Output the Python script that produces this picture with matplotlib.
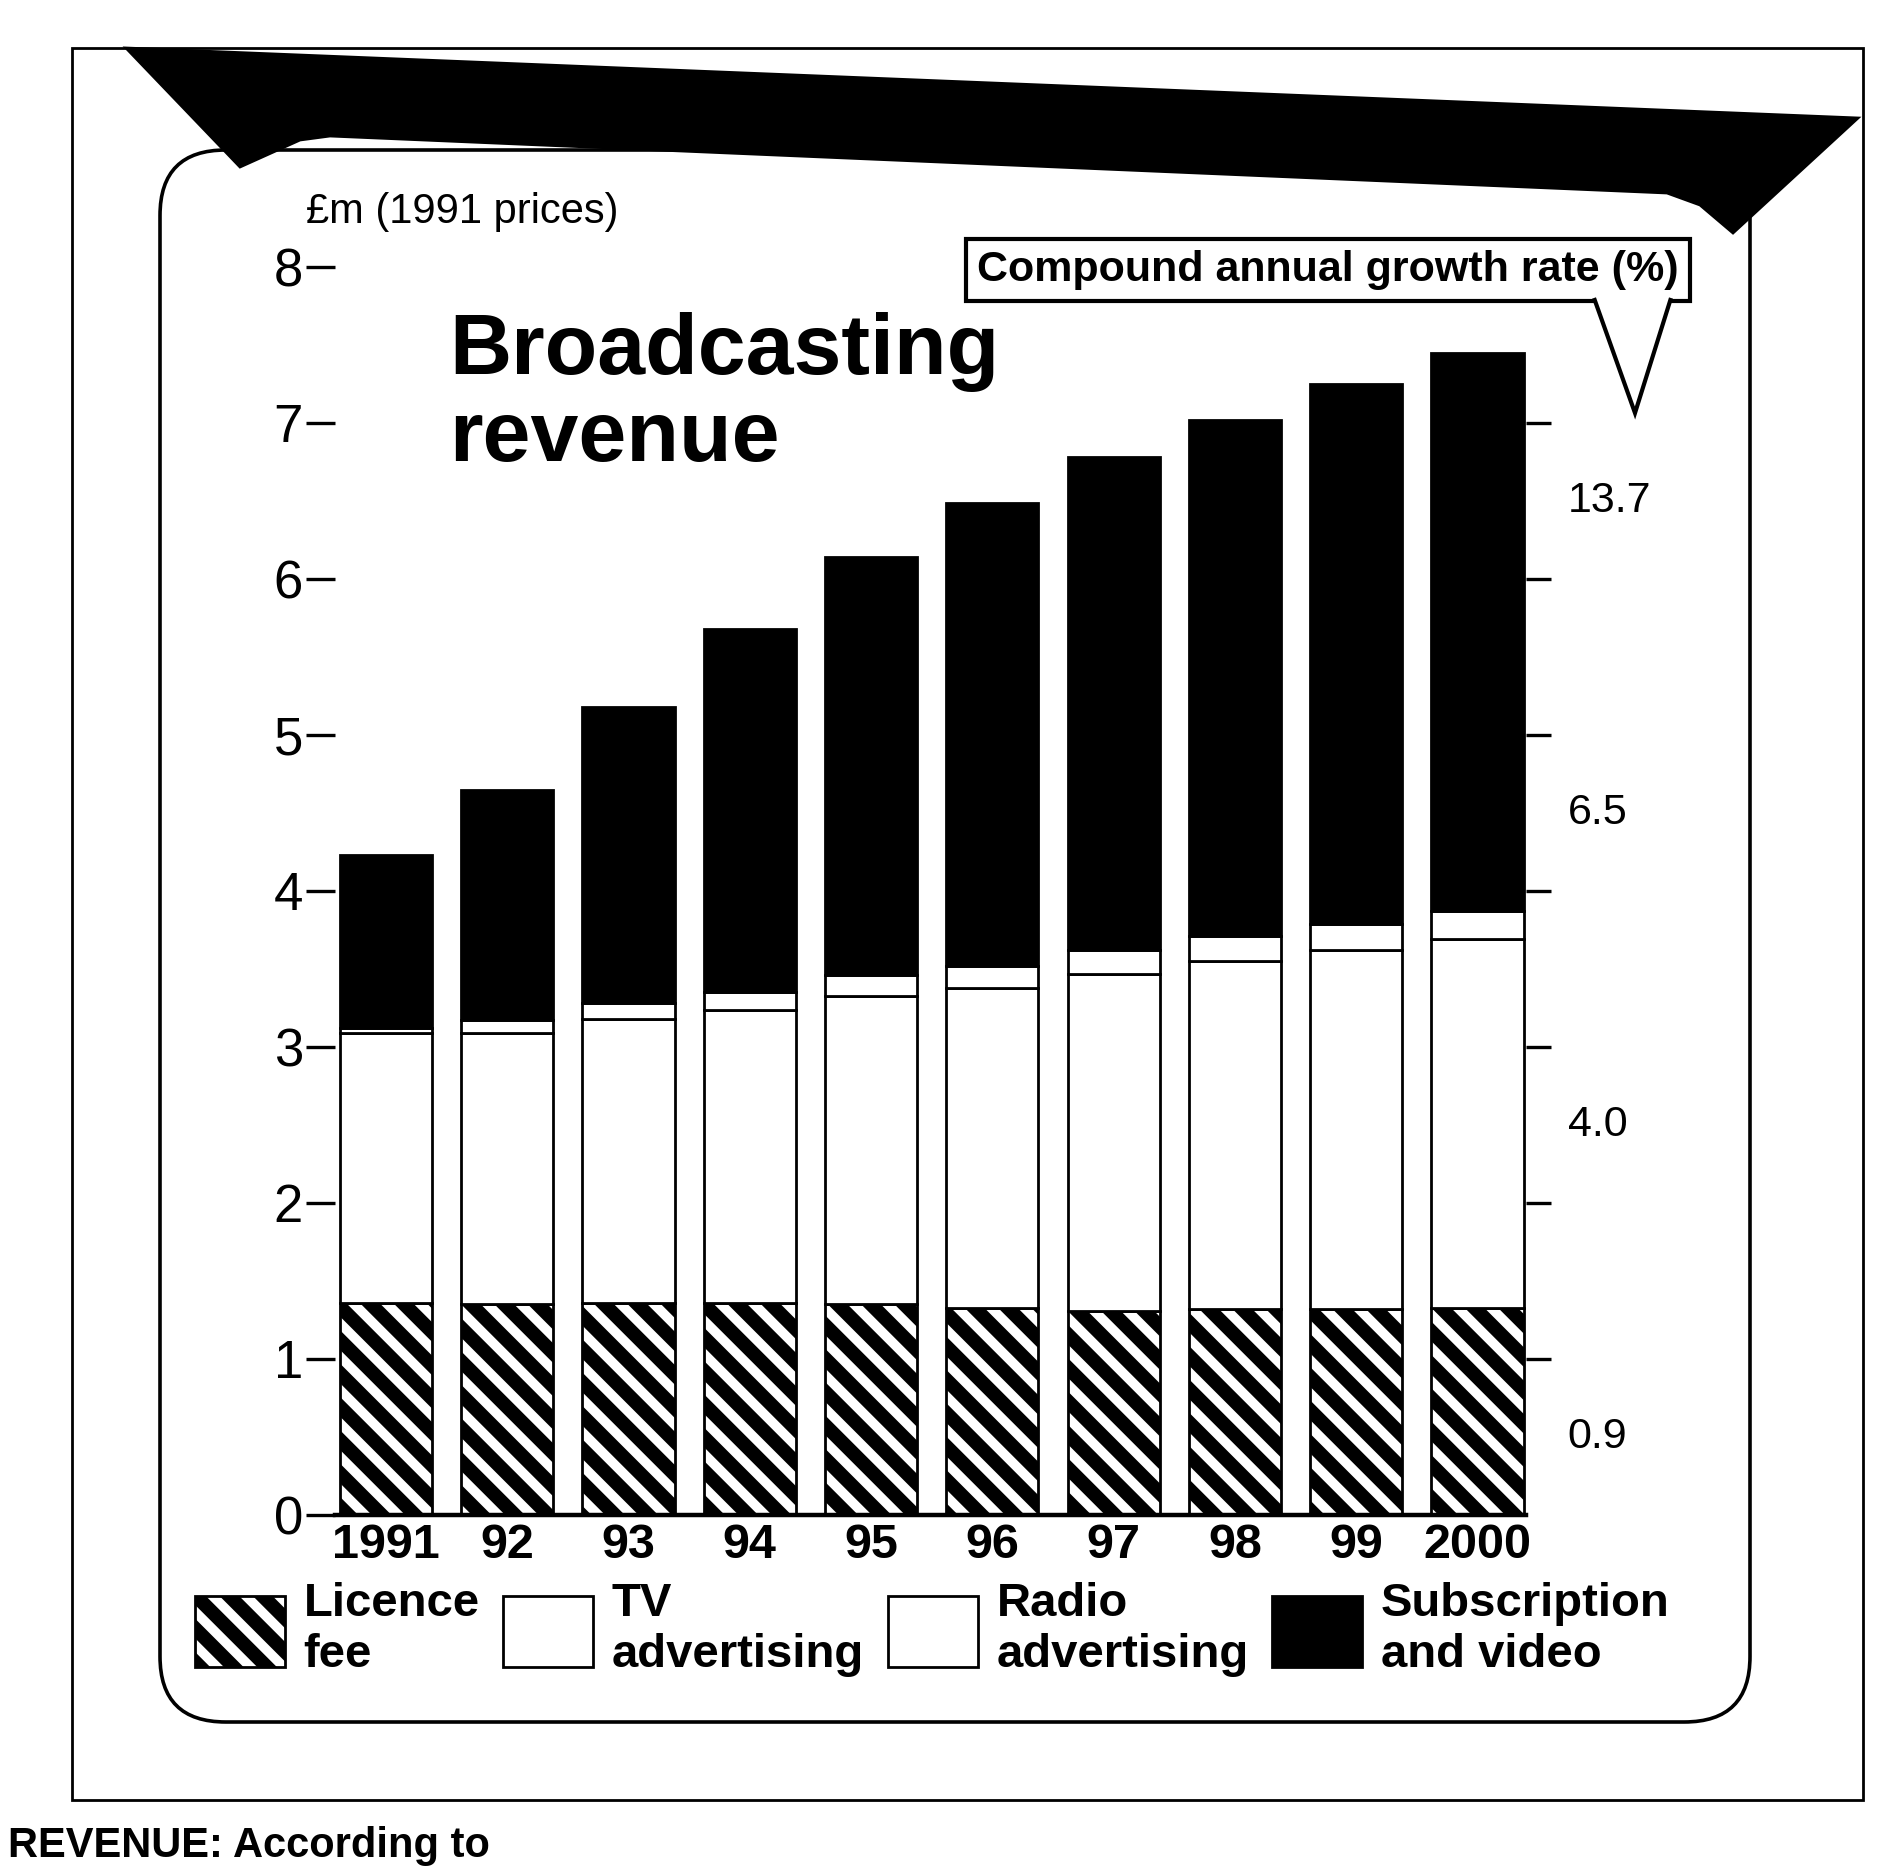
import matplotlib
matplotlib.use("Agg")
import matplotlib.pyplot as plt
from matplotlib.patches import Polygon, FancyBboxPatch, Rectangle
import numpy as np

# values, £m at 1991 prices
years = ["1991", "92", "93", "94", "95", "96", "97", "98", "99", "2000"]
licence_fee = [1.36, 1.35, 1.36, 1.36, 1.35, 1.33, 1.31, 1.32, 1.32, 1.33]
tv_advertising = [1.73, 1.74, 1.82, 1.88, 1.98, 2.05, 2.16, 2.23, 2.30, 2.36]
radio_advertising = [0.03, 0.08, 0.10, 0.11, 0.13, 0.14, 0.15, 0.16, 0.17, 0.18]
subscription_video = [1.11, 1.48, 1.90, 2.33, 2.68, 2.97, 3.16, 3.31, 3.46, 3.58]
series_names = ["Licence\nfee", "TV\nadvertising", "Radio\nadvertising", "Subscription\nand video"]
growth_rates = ["0.9", "4.0", "6.5", "13.7"]
y_ticks = [0, 1, 2, 3, 4, 5, 6, 7, 8]

W, H = 1879, 1872
DPI = 200
plt.rcParams['font.family'] = ['Liberation Sans', 'DejaVu Sans']
plt.rcParams['hatch.linewidth'] = 5.0


def fx(px):
    return px / W


def fy(py):
    return 1 - py / H


fig = plt.figure(figsize=(W / DPI, H / DPI), dpi=DPI)
fig.patch.set_facecolor("white")

# frame: outer box, rounded panel, black bevel band on top
fig.patches.append(Rectangle((fx(72), fy(1800)), fx(1863) - fx(72), fy(48) - fy(1800),
                             transform=fig.transFigure, fill=False, ec="black", lw=1.0))
fig.patches.append(FancyBboxPatch((fx(160), fy(1722)), fx(1750) - fx(160), fy(150) - fy(1722),
                                  boxstyle="round,pad=0,rounding_size=0.035",
                                  transform=fig.transFigure, fill=False, ec="black", lw=1.3))
band = [(126, 48), (1858, 118), (1733, 233), (1700, 205), (1667, 193),
        (330, 136), (300, 140), (240, 167)]
fig.patches.append(Polygon([(fx(a), fy(b)) for a, b in band], closed=True,
                           transform=fig.transFigure, fc="black", ec="black", lw=1, zorder=2))

ax = fig.add_axes([fx(335), fy(1515), fx(1526) - fx(335), fy(267) - fy(1515)])
x = np.arange(len(years))
w = 0.76
b1 = ax.bar(x, licence_fee, w, color="white", edgecolor="black", lw=1.0, hatch="\\\\")
bottom = np.array(licence_fee)
b2 = ax.bar(x, tv_advertising, w, bottom=bottom, color="white", edgecolor="black", lw=1.0)
bottom = bottom + np.array(tv_advertising)
b3 = ax.bar(x, radio_advertising, w, bottom=bottom, color="white", edgecolor="black", lw=1.0)
bottom = bottom + np.array(radio_advertising)
b4 = ax.bar(x, subscription_video, w, bottom=bottom, color="black", edgecolor="black", lw=1.0)

ax.set_xlim(-0.42, 9.40)
ax.set_ylim(0, 8)
ax.set_yticks(y_ticks)
ax.set_yticklabels([str(t) for t in y_ticks], fontsize=19)
ax.set_xticks(x)
ax.set_xticklabels(years, fontsize=17.5, fontweight="bold")
ax.tick_params(axis="y", length=10.5, width=1.2, pad=1)
ax.tick_params(axis="x", length=0, pad=3)
for s in ["top", "right", "left"]:
    ax.spines[s].set_visible(False)
ax.spines["bottom"].set_linewidth(1.6)

# right hand scale with growth rates
ax2 = ax.twinx()
ax2.set_ylim(0, 8)
ax2.set_yticks(y_ticks[1:])
ax2.tick_params(axis="y", length=9, width=1.2, labelright=False)
for s in ax2.spines.values():
    s.set_visible(False)
for pos, lab in zip([0.5, 2.5, 4.5, 6.5], growth_rates):
    ax.text(1.035, pos, lab, transform=ax.get_yaxis_transform(), fontsize=15.5,
            ha="left", va="center")

fig.text(fx(306), fy(192), "£m (1991 prices)", fontsize=15, ha="left", va="top")
fig.text(fx(449), fy(312), "Broadcasting\nrevenue", fontsize=31, fontweight="bold",
         ha="left", va="top", linespacing=1.12)

fig.text(fx(1328), fy(270), "Compound annual growth rate (%)", fontsize=15.5,
         fontweight="bold", ha="center", va="center",
         bbox=dict(boxstyle="square,pad=0.25", fc="white", ec="black", lw=1.5))
fig.patches.append(Polygon([(fx(1594), fy(298)), (fx(1635), fy(413)), (fx(1671), fy(298))],
                           closed=False, transform=fig.transFigure, fc="white", ec="black",
                           lw=1.5, zorder=4))

fig.legend([b1, b2, b3, b4], series_names, loc="upper left",
           bbox_to_anchor=(fx(195), fy(1582)), ncol=4, frameon=False,
           prop={"size": 17, "weight": "bold"}, handlelength=1.9, handleheight=1.95,
           handletextpad=0.4, columnspacing=0.5, borderaxespad=0, borderpad=0,
           labelspacing=0.2)

fig.text(0.004, 0.003, "REVENUE: According to", fontsize=15, fontweight="bold",
         ha="left", va="bottom")

fig.savefig("out.png", dpi=DPI)
